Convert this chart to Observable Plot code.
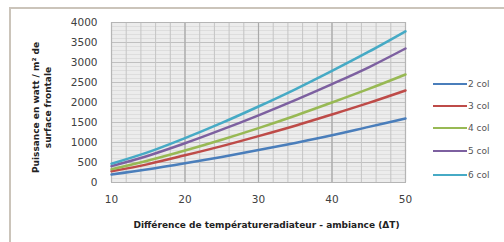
<!DOCTYPE html>
<html><head><meta charset="utf-8">
<script src="https://cdn.jsdelivr.net/npm/d3@7"></script>
<script src="https://cdn.jsdelivr.net/npm/@observablehq/plot@0.6"></script>
<style>
body{margin:0;background:#fff;}
#wrap{position:relative;width:504px;height:242px;overflow:hidden;font-family:"DejaVu Sans",sans-serif;}
#frame{position:absolute;left:9px;top:7px;width:540px;height:280px;border:2px solid #cbc4ba;box-sizing:border-box;}
#chart{position:absolute;left:0;top:0;}
#legend{position:absolute;left:433px;top:0;width:71px;height:242px;}
.row{position:absolute;left:0;height:12px;display:flex;align-items:center;font-size:9px;color:#555;}
.sw{width:34px;height:2.5px;margin-right:1px;}
</style></head><body>
<div id="wrap"><div id="frame"></div><div id="chart"></div><div id="legend"></div></div>
<script>
const deltaT = [10, 15, 20, 25, 30, 35, 40, 45, 50];
const series = ["2 col", "3 col", "4 col", "5 col", "6 col"];
const col2 = [200, 330, 480, 640, 810, 990, 1180, 1390, 1600];
const col3 = [280, 460, 680, 910, 1160, 1420, 1700, 1990, 2300];
const col4 = [330, 550, 800, 1070, 1360, 1670, 2000, 2340, 2700];
const col5 = [410, 670, 980, 1320, 1680, 2060, 2460, 2880, 3350];
const col6 = [470, 760, 1110, 1490, 1900, 2330, 2790, 3270, 3780];
const colors = ["#4a7ebb", "#be4b48", "#98b954", "#7d60a0", "#46aac5"];
const xTicks = [10, 20, 30, 40, 50];
const yTicks = [0, 500, 1000, 1500, 2000, 2500, 3000, 3500, 4000];
const yTitle = "Puissance en watt / m² de\nsurface frontale";
const xTitle = "Différence de températureradiateur - ambiance (ΔT)";

const values = [col2, col3, col4, col5, col6];
const data = series.flatMap((s, i) => deltaT.map((t, j) => ({s, t, v: values[i][j]})));
const xMinor = d3.range(10, 51, 2);
const yMinor = d3.range(0, 4001, 100);

const plot = Plot.plot({
  width: 504, height: 242,
  marginLeft: 111, marginRight: 99, marginTop: 22, marginBottom: 60,
  style: {fontFamily: "DejaVu Sans, sans-serif", fontSize: "10.5px", color: "#404040", background: "transparent"},
  x: {domain: [10, 50], ticks: xTicks, tickSize: 0, tickPadding: 13, tickFormat: d => String(d), label: null},
  y: {domain: [0, 4000], ticks: yTicks, tickSize: 0, tickPadding: 14, tickFormat: d => String(d), label: null},
  color: {domain: series, range: colors},
  marks: [
    Plot.frame({fill: "#ececec"}),
    Plot.ruleY(yMinor, {stroke: "#d4d4d4", strokeWidth: 0.6}),
    Plot.ruleY(yTicks, {stroke: "#bcbcbc", strokeWidth: 0.9}),
    Plot.ruleX(xMinor, {stroke: "#c4c4c4", strokeWidth: 1}),
    Plot.ruleX(xTicks, {stroke: "#a9a9a9", strokeWidth: 1.2}),
    Plot.frame({stroke: "#b5b5b5"}),
    Plot.line(data, {x: "t", y: "v", z: "s", stroke: "s", strokeWidth: 2.5, curve: "catmull-rom"}),
    Plot.text([yTitle], {frameAnchor: "left", textAnchor: "middle", lineAnchor: "middle", rotate: -90, dx: -70, dy: 5, fontWeight: "bold", fontSize: 9, lineHeight: 1.35, fill: "#222"}),
    Plot.text([xTitle], {frameAnchor: "bottom", textAnchor: "middle", dy: 45, dx: 8, fontWeight: "bold", fontSize: 9, fill: "#222"})
  ]
});
document.getElementById("chart").append(plot);

const legend = document.getElementById("legend");
const rowY = [84, 106, 128, 151, 175];
series.forEach((s, i) => {
  const row = document.createElement("div");
  row.className = "row";
  row.style.top = (rowY[i] - 6) + "px";
  const sw = document.createElement("div");
  sw.className = "sw";
  sw.style.background = colors[i];
  const lab = document.createElement("span");
  lab.textContent = s;
  row.append(sw, lab);
  legend.append(row);
});
</script>
</body></html>
